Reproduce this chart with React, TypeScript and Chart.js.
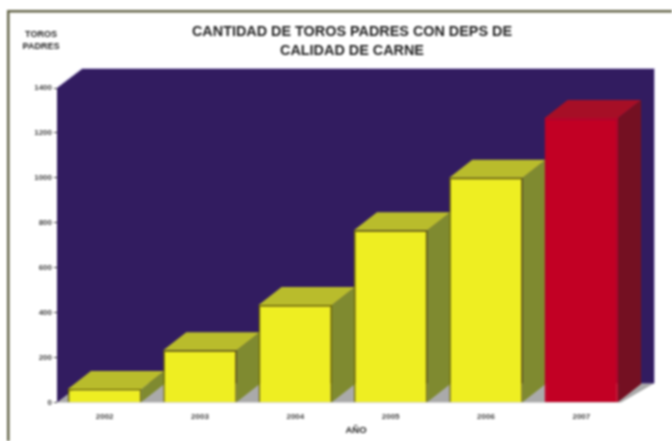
import React, { useEffect, useRef } from "react";
import { Chart, registerables } from "chart.js";

Chart.register(...registerables);

const years = ["2002", "2003", "2004", "2005", "2006", "2007"];
const toros = [60, 233, 434, 767, 1000, 1266];
const frontColors = ["#eeee22", "#eeee22", "#eeee22", "#eeee22", "#eeee22", "#c20024"];
const edgeColors = ["#6f6a00", "#6f6a00", "#6f6a00", "#6f6a00", "#6f6a00", "#c20024"];
const topColors = ["#b9bc2c", "#b9bc2c", "#b9bc2c", "#b9bc2c", "#b9bc2c", "#a60f26"];
const sideColors = ["#7f8a30", "#7f8a30", "#7f8a30", "#7f8a30", "#7f8a30", "#741022"];
const titleLines = ["CANTIDAD DE TOROS PADRES CON DEPS DE", "CALIDAD DE CARNE"];
const yAxisLines = ["TOROS", "PADRES"];
const xAxisName = "AÑO";

const FONT = "'Liberation Sans', Arial, sans-serif";

const poly = (ctx: CanvasRenderingContext2D, pts: number[][], fill: string) => {
  ctx.beginPath();
  pts.forEach((p, i) => (i ? ctx.lineTo(p[0], p[1]) : ctx.moveTo(p[0], p[1])));
  ctx.closePath();
  ctx.fillStyle = fill;
  ctx.fill();
};

const scenePlugin = {
  id: "scene",
  afterLayout(chart: any) {
    chart.titleBlock.right += 75;
  },
  beforeDraw(chart: any) {
    const ctx: CanvasRenderingContext2D = chart.ctx;
    ctx.save();
    ctx.fillStyle = "#ffffff";
    ctx.fillRect(0, 0, chart.width, chart.height);
    ctx.fillStyle = "#66664a";
    ctx.fillRect(7, 10, chart.width - 7, 2.5);
    ctx.fillRect(7, 10, 2.5, chart.height - 10);
    ctx.restore();
  },
  beforeDatasetsDraw(chart: any) {
    const ctx: CanvasRenderingContext2D = chart.ctx;
    const { left, right, top, bottom } = chart.chartArea;
    const dx = 25;
    const dy = 19;
    ctx.save();
    poly(ctx, [[left, bottom], [left + dx, bottom - dy], [right + dx, bottom - dy], [right - 8, bottom]], "#aaaaaa");
    poly(
      ctx,
      [[left, top], [left + dx, top - dy], [right + dx, top - dy], [right + dx, bottom - dy], [left + dx, bottom - dy], [left, bottom]],
      "#321c60"
    );
    ctx.strokeStyle = "#c4bbe0";
    ctx.lineWidth = 1;
    ctx.beginPath();
    ctx.moveTo(left, top - 0.5);
    ctx.lineTo(left + dx, top - dy - 0.5);
    ctx.lineTo(right + dx + 0.5, top - dy - 0.5);
    ctx.lineTo(right + dx + 0.5, bottom - dy);
    ctx.stroke();

    const bx = 23;
    const by = 18;
    chart.getDatasetMeta(0).data.forEach((bar: any, i: number) => {
      const l = bar.x - bar.width / 2;
      const r = bar.x + bar.width / 2;
      poly(ctx, [[r, bar.y], [r + bx, bar.y - by], [r + bx, bar.base - by], [r, bar.base]], sideColors[i]);
      poly(ctx, [[l, bar.y], [l + bx, bar.y - by], [r + bx, bar.y - by], [r, bar.y]], topColors[i]);
    });
    ctx.restore();
  },
  afterDraw(chart: any) {
    const ctx: CanvasRenderingContext2D = chart.ctx;
    ctx.save();
    ctx.fillStyle = "#222222";
    ctx.textAlign = "center";
    ctx.textBaseline = "middle";
    ctx.font = `bold 9px ${FONT}`;
    yAxisLines.forEach((line, i) => ctx.fillText(line, 41, 35 + i * 12));
    ctx.font = `bold 9.5px ${FONT}`;
    ctx.fillText(xAxisName, 356, 430);
    ctx.restore();
  },
};

export default function App() {
  const ref = useRef<HTMLCanvasElement>(null);
  useEffect(() => {
    const chart = new Chart(ref.current!, {
      type: "bar",
      data: {
        labels: years,
        datasets: [
          {
            data: toros,
            backgroundColor: frontColors,
            borderColor: edgeColors,
            borderWidth: 1.5,
            barPercentage: 0.77,
            categoryPercentage: 1,
          },
        ],
      },
      options: {
        animation: false,
        responsive: false,
        layout: { padding: { left: 0, right: 43, top: 0, bottom: 0 } },
        plugins: {
          legend: { display: false },
          tooltip: { enabled: false },
          title: {
            display: true,
            text: titleLines,
            color: "#222222",
            font: { family: FONT, size: 14.4, weight: "bold", lineHeight: 19 / 14.4 },
            padding: { top: 22.5, bottom: 27.5 },
          },
        },
        scales: {
          x: {
            afterFit: (s: any) => {
              s.height = 38.5;
            },
            grid: { display: false },
            border: { display: false },
            ticks: { color: "#444444", font: { family: FONT, size: 8, weight: "bold" }, padding: 1, maxRotation: 0 },
          },
          y: {
            min: 0,
            max: 1400,
            afterFit: (s: any) => {
              s.width = 57;
            },
            grid: { drawOnChartArea: false, drawTicks: true, tickLength: 3, color: "#444444" },
            border: { display: false },
            ticks: {
              stepSize: 200,
              color: "#444444",
              font: { family: FONT, size: 8, weight: "bold" },
              padding: 2,
              callback: (v: any) => String(v),
            },
          },
        },
      },
      plugins: [scenePlugin],
    } as any);
    return () => chart.destroy();
  }, []);
  return (
    <div style={{ position: "absolute", left: 0, top: 0, width: 672, height: 441, overflow: "hidden", background: "#fff" }}>
      <canvas ref={ref} width={672} height={441} style={{ display: "block", filter: "blur(0.8px)" }} />
    </div>
  );
}
